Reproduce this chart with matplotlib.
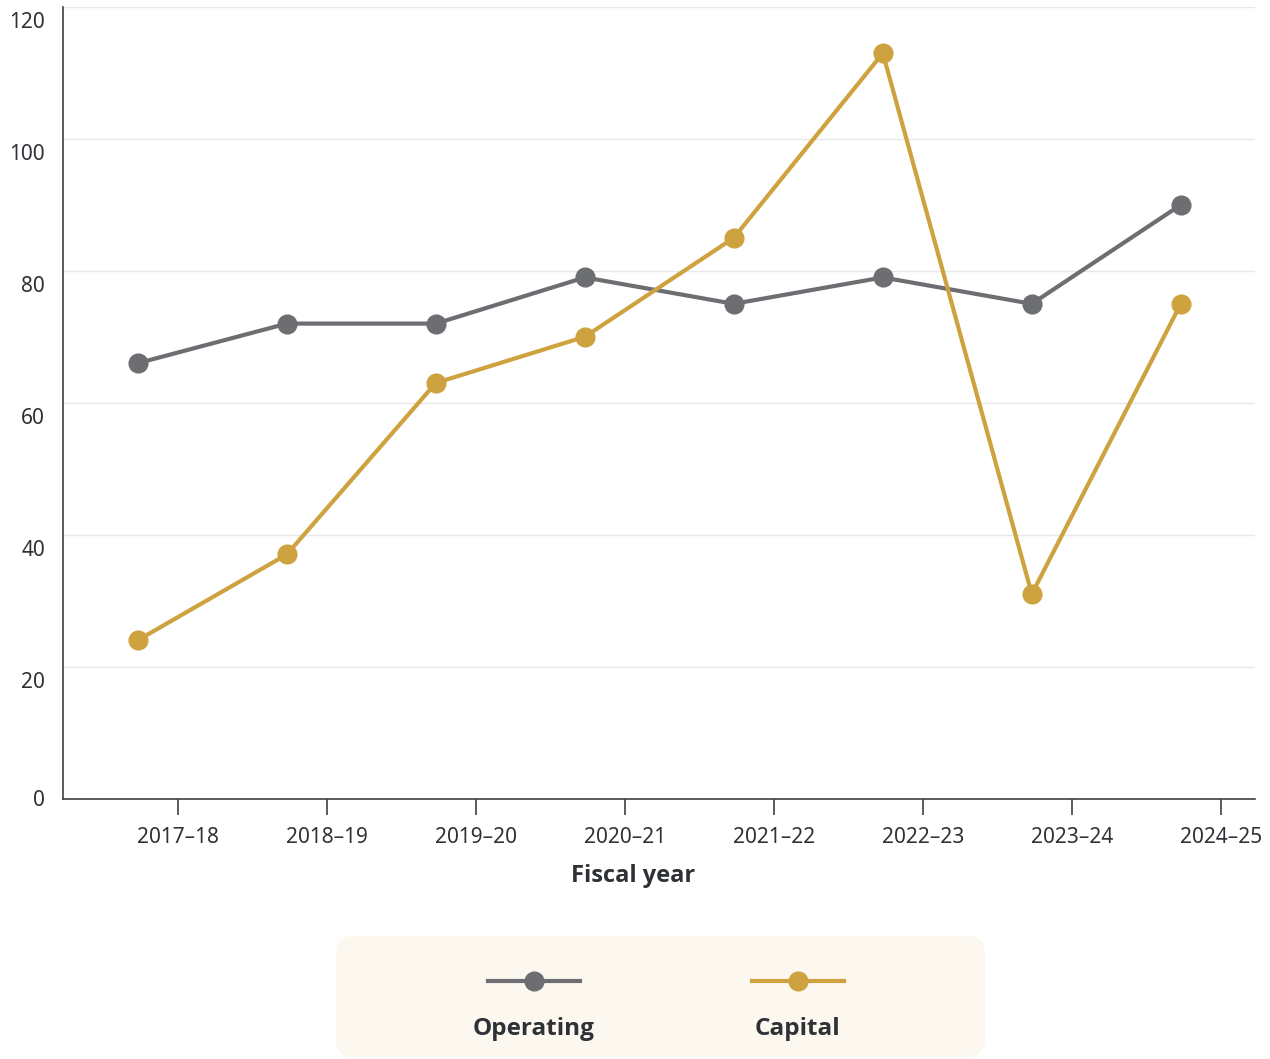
import numpy as np
import matplotlib
matplotlib.use("Agg")
from matplotlib import pyplot as plt
from matplotlib import transforms
from matplotlib.patches import FancyBboxPatch
from matplotlib.lines import Line2D

# Dados
anos = ["2017–18", "2018–19", "2019–20", "2020–21", "2021–22", "2022–23", "2023–24", "2024–25"]
operating = [66, 72, 72, 79, 75, 79, 75, 90]
capital = [24, 37, 63, 70, 85, 113, 31, 75]
y_ticks = [0, 20, 40, 60, 80, 100, 120]

cinza = "#6d6e72"
ouro = "#cda23f"
texto = "#2e3136"

plt.rcParams['font.family'] = ['Noto Sans', 'DejaVu Sans']
negrito = ['Open Sans', 'Noto Sans', 'DejaVu Sans']

fig = plt.figure(figsize=(12.7, 10.59), dpi=100)
ax = fig.add_axes([63/1270, 1-798.5/1059, (1255-63)/1270, (798.5-7)/1059])

x = np.arange(len(anos))
xp = x - 0.27
ax.plot(xp, operating, color=cinza, lw=3, marker="o", ms=13.5, zorder=3, solid_capstyle="round")
ax.plot(xp, capital, color=ouro, lw=3, marker="o", ms=13.5, zorder=3, solid_capstyle="round")

ax.set_xlim(-0.772, 7.228)
ax.set_ylim(0, 120)
ax.set_xticks(x)
ax.set_xticklabels(anos, fontsize=15, color=texto)
ax.set_yticks(y_ticks)
ax.set_yticklabels([str(v) for v in y_ticks], fontsize=15, color=texto)
ax.tick_params(axis="x", length=11.5, width=1.2, color="#3c3f44", pad=9)
ax.tick_params(axis="y", length=0, pad=13)
# rotulos do eixo y deslocados para baixo (menos o zero)
desl = transforms.ScaledTranslation(0, -13/100, fig.dpi_scale_trans)
for v, lab in zip(y_ticks, ax.get_yticklabels()):
    if v != 0:
        lab.set_transform(lab.get_transform() + desl)
ax.grid(axis="y", color="#e8e8e8", lw=1)
ax.set_axisbelow(True)
for s in ["top", "right"]:
    ax.spines[s].set_visible(False)
for s in ["left", "bottom"]:
    ax.spines[s].set_color("#3c3f44")
    ax.spines[s].set_linewidth(1.2)
fig.text(633/1270, 1-876/1059, "Fiscal year", ha="center", va="center", fontsize=17,
         fontweight="bold", color=texto, family=negrito)

# Legenda
lg = fig.add_axes([336/1270, 0.0, (985-336)/1270, 124/1059])
lg.set_xlim(0, 649)
lg.set_ylim(0, 124)
lg.axis("off")
lg.add_patch(FancyBboxPatch((0, 2), 649, 121, boxstyle="round,pad=0,rounding_size=18",
                            fc="#fcf8f0", ec="none"))
for cx, cor, nome in [(198, cinza, "Operating"), (462, ouro, "Capital")]:
    lg.add_line(Line2D([cx-46, cx+46], [78, 78], color=cor, lw=3))
    lg.plot([cx], [78], marker="o", ms=13.5, color=cor)
    lg.text(cx, 30, nome, ha="center", va="center", fontsize=17.5, fontweight="bold",
            color=texto, family=negrito)

fig.savefig("out.png", dpi=100)
